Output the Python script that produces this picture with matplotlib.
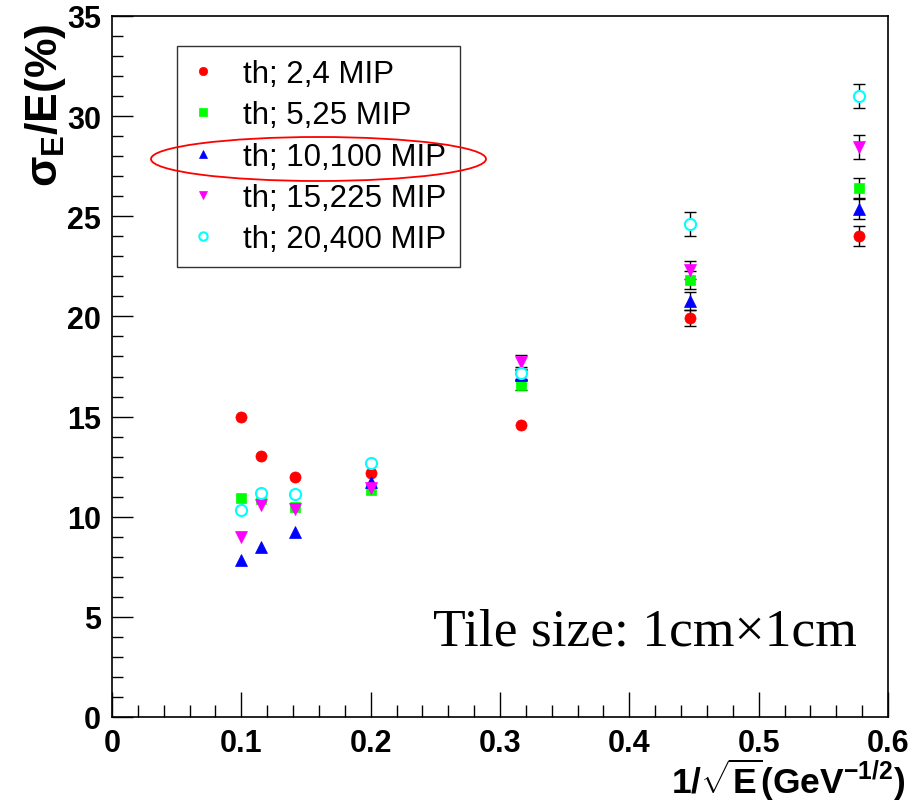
import numpy as np
import matplotlib
matplotlib.use("Agg")
import matplotlib.pyplot as plt
from matplotlib.patches import Ellipse
from matplotlib.ticker import MultipleLocator

plt.rcParams['font.family'] = ['Liberation Sans', 'DejaVu Sans']
plt.rcParams['mathtext.fontset'] = 'custom'
plt.rcParams['mathtext.rm'] = 'Liberation Sans:bold'
plt.rcParams['mathtext.bf'] = 'Liberation Sans:bold'
plt.rcParams['mathtext.it'] = 'Liberation Sans:bold'
plt.rcParams['mathtext.sf'] = 'Liberation Sans:bold'

# Beam energies (GeV) -> x = 1/sqrt(E)
energies = np.array([100, 75, 50, 25, 10, 5, 3])
x = 1.0 / np.sqrt(energies)

labels = ["th; 2,4 MIP", "th; 5,25 MIP", "th; 10,100 MIP", "th; 15,225 MIP", "th; 20,400 MIP"]

res_2_4 = [15.0, 13.03, 12.0, 12.17, 14.6, 19.92, 24.0]
err_2_4 = [0.05, 0.05, 0.05, 0.05, 0.1, 0.40, 0.50]
res_5_25 = [10.93, 10.88, 10.47, 11.33, 16.57, 21.83, 26.4]
err_5_25 = [0.05, 0.05, 0.05, 0.05, 0.25, 0.45, 0.50]
res_10_100 = [7.84, 8.49, 9.22, 11.75, 17.07, 20.78, 25.36]
err_10_100 = [0.05, 0.05, 0.05, 0.05, 0.25, 0.45, 0.50]
res_15_225 = [9.0, 10.58, 10.38, 11.42, 17.71, 22.33, 28.44]
err_15_225 = [0.05, 0.05, 0.05, 0.05, 0.35, 0.45, 0.60]
res_20_400 = [10.35, 11.17, 11.13, 12.68, 17.17, 24.61, 30.99]
err_20_400 = [0.05, 0.05, 0.05, 0.05, 0.30, 0.60, 0.60]

series = [res_2_4, res_5_25, res_10_100, res_15_225, res_20_400]
errors = [err_2_4, err_5_25, err_10_100, err_15_225, err_20_400]
colors = ['#ff0000', '#00ff00', '#0000ff', '#ff00ff', '#00ffff']
markers = ['o', 's', '^', 'v', 'o']
msizes = [8, 7.5, 8, 8, 8]
faces = ['#ff0000', '#00ff00', '#0000ff', '#ff00ff', 'white']

W, H = 915, 812
fig = plt.figure(figsize=(W / 100, H / 100), dpi=100)
L, R, T, B = 112, 888, 17, 718
ax = fig.add_axes([L / W, 1 - B / H, (R - L) / W, (B - T) / H])

handles = []
for ys, es, c, m, ms, fc, lab in zip(series, errors, colors, markers, msizes, faces, labels):
    ys_a = np.asarray(ys)
    es_a = np.asarray(es)
    vis = es_a > 0.2  # error bars smaller than the marker are hidden (ROOT style)
    ax.errorbar(x[vis], ys_a[vis], yerr=es_a[vis], fmt='none', ecolor='black',
                elinewidth=1, capsize=4, capthick=1, zorder=2)
    h, = ax.plot(x, ys, linestyle='none', marker=m, markersize=ms, color=c,
                 markerfacecolor=fc, markeredgecolor=c,
                 markeredgewidth=1.5 if fc == 'white' else 0.5, zorder=3, label=lab)
    handles.append(h)

ax.set_xlim(0, 0.6)
ax.set_ylim(0, 35)
ax.xaxis.set_major_locator(MultipleLocator(0.1))
ax.xaxis.set_minor_locator(MultipleLocator(0.02))
ax.yaxis.set_major_locator(MultipleLocator(5))
ax.yaxis.set_minor_locator(MultipleLocator(1))
ax.set_xticks(np.arange(0, 0.61, 0.1))
ax.set_xticklabels(['0', '0.1', '0.2', '0.3', '0.4', '0.5', '0.6'])
ax.tick_params(axis='both', which='both', direction='in', top=False, right=False,
               width=1, color='black')
ax.tick_params(axis='x', which='major', length=18, pad=8, labelsize=22)
ax.tick_params(axis='x', which='minor', length=9)
ax.tick_params(axis='y', which='major', length=15, pad=8, labelsize=22)
ax.tick_params(axis='y', which='minor', length=8)
for lbl in ax.get_xticklabels() + ax.get_yticklabels():
    lbl.set_fontweight('bold')
for sp in ax.spines.values():
    sp.set_linewidth(1.2)

fig.text(45 / W, 1 - 24 / H, r'$\sigma_{\mathrm{E}}\mathrm{/E(\%)}$', rotation=90,
         ha='center', va='top', fontsize=32)
fig.text(905 / W, 1 - 780 / H, r'$\mathrm{1/}\sqrt{\mathrm{E}}\mathrm{(GeV^{-1/2})}$',
         ha='right', va='center', fontsize=25.5)

fig.text(433 / W, 1 - 633 / H, 'Tile size: 1cm\u00d71cm', family='Liberation Serif',
         fontsize=38.5, ha='left', va='center')

leg = ax.legend(handles=handles, loc='upper left', bbox_to_anchor=(177 / W, 1 - 47 / H),
                bbox_transform=fig.transFigure, borderaxespad=0, frameon=True,
                fancybox=False, edgecolor='black', fontsize=22.5, markerscale=0.75,
                handlelength=0.85, handletextpad=0.85, labelspacing=0.36,
                borderpad=0.42, numpoints=1)
leg.get_frame().set_linewidth(1)
leg.set_zorder(5)

ell = Ellipse(((151 + 486) / 2 / W, 1 - 160 / H), width=335 / W, height=44 / H,
              transform=fig.transFigure, fill=False, edgecolor='red', linewidth=1.3,
              zorder=10)
fig.add_artist(ell)

fig.savefig('out.png', dpi=100)
